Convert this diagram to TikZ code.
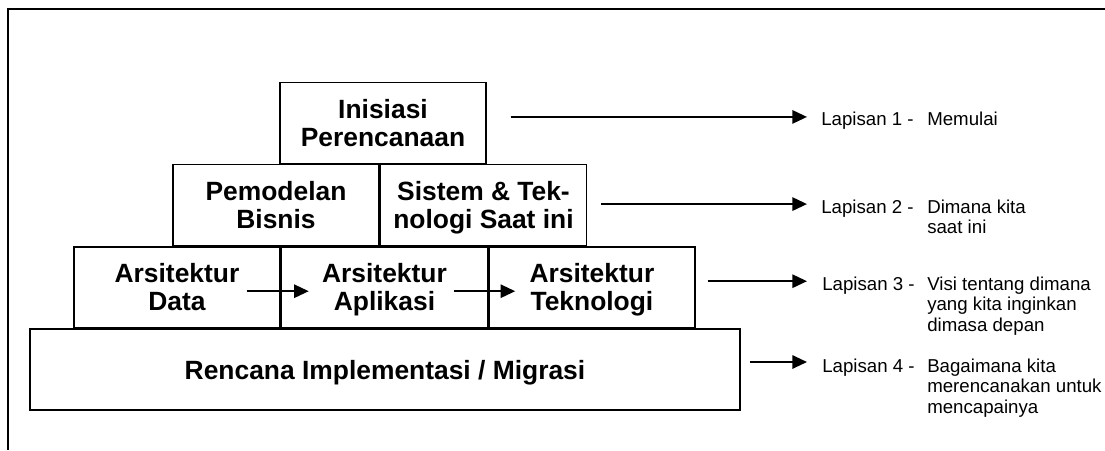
\documentclass[tikz,border=0pt]{standalone}
\usepackage{fontspec}
\setmainfont{Liberation Sans}
\usetikzlibrary{positioning, arrows.meta, calc}

\begin{document}
\begin{tikzpicture}[x=0.75pt, y=-0.75pt,
        block/.style={draw, rectangle, line width=1.1pt, minimum width=154.5pt, minimum height=60.5pt, inner sep=0pt, align=center, text depth=0pt, font=\fontsize{19.8}{21}\selectfont\bfseries},
        lapis/.style={inner sep=0pt, font=\fontsize{14}{15.5}\selectfont},
        desc/.style={inner sep=0pt, align=left, font=\fontsize{14}{15.5}\selectfont},
        arr/.style={-{Triangle[length=11pt, width=10pt]}, line width=1.5pt}]

        \useasboundingbox (0,0) rectangle (1105,450);

        % Bingkai
        \draw[line width=1.5pt] (1105,9) -| (8,450);

        % Piramida
        \node (rencana) [block, minimum width=532.5pt, minimum height=60.75pt] at (385,369.5) {Rencana Implementasi / Migrasi};
        \node (data) [block, anchor=south west] at ($(rencana.north west)+(44,0)$) {Arsitektur\\Data};
        \node (aplikasi) [block, right=0pt of data] {Arsitektur\\Aplikasi};
        \node (teknologi) [block, right=0pt of aplikasi] {Arsitektur\\Teknologi};
        \node (bisnis) [block, anchor=south west] at ($(data.north west)+(99,0)$) {Pemodelan\\Bisnis};
        \node (sistem) [block, right=0pt of bisnis] {Sistem \& Tek-\\nologi Saat ini};
        \node (inisiasi) [block, anchor=south west] at ($(bisnis.north west)+(107,0)$) {Inisiasi\\Perencanaan};

        % Panah di dalam
        \draw[arr] ($(data.east)+(-34,4)$) -- ($(aplikasi.west)+(28,4)$);
        \draw[arr] ($(aplikasi.east)+(-34,4)$) -- ($(teknologi.west)+(27,4)$);

        % Titik awal dan akhir panah lapisan
        \coordinate (kolom) at (807,0);
        \coordinate (teks) at (927,0);
        \coordinate (s1) at ($(inisiasi.east)+(24,-6)$);
        \coordinate (s2) at ($(sistem.east)+(14,-1)$);
        \coordinate (s3) at ($(teknologi.east)+(12,-6)$);
        \coordinate (s4) at ($(rencana.east)+(9,-7.5)$);
        \coordinate (e1) at (s1 -| kolom);
        \coordinate (e2) at (s2 -| kolom);
        \coordinate (e3) at (s3 -| kolom);
        \coordinate (e4) at (s4 -| kolom);

        \draw[arr] (s1) -- (e1);
        \draw[arr] (s2) -- (e2);
        \draw[arr] (s3) -- (e3);
        \draw[arr] (s4) -- (e4);

        % Keterangan lapisan
        \node (l1) [lapis, anchor=base west] at ($(e1)+(14,9)$) {Lapisan 1 -};
        \node (l2) [lapis, anchor=base west] at ($(e2)+(14,9)$) {Lapisan 2 -};
        \node (l3) [lapis, anchor=base west] at ($(e3)+(15,9)$) {Lapisan 3 -};
        \node (l4) [lapis, anchor=base west] at ($(e4)+(15,10)$) {Lapisan 4 -};

        \node (d1) [desc, anchor=north west] at (l1.north -| teks) {Memulai};
        \node (d2) [desc, anchor=north west] at (l2.north -| teks) {Dimana kita\\saat ini};
        \node (d3) [desc, anchor=north west] at (l3.north -| teks) {Visi tentang dimana\\yang kita inginkan\\dimasa depan};
        \node (d4) [desc, anchor=north west] at (l4.north -| teks) {Bagaimana kita\\merencanakan untuk\\mencapainya};
\end{tikzpicture}
\end{document}
